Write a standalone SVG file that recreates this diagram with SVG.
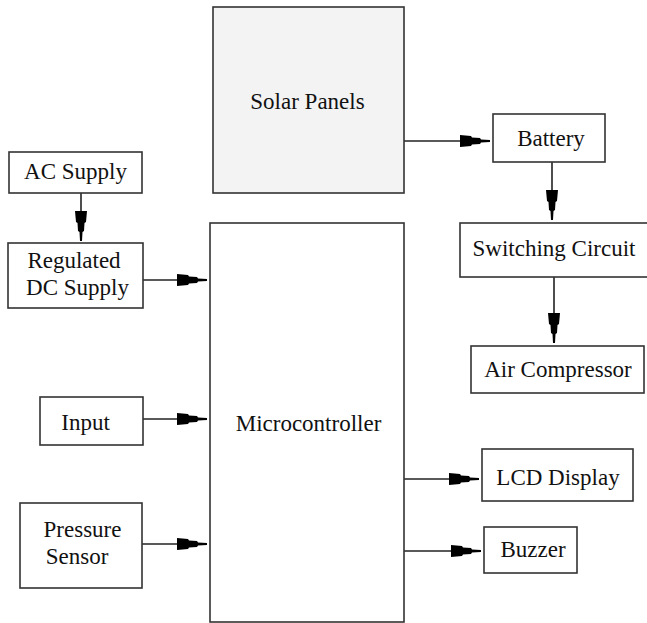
<svg xmlns="http://www.w3.org/2000/svg" width="647" height="623" viewBox="0 0 647 623">
<style>
.box{fill:#fff;stroke:#333;stroke-width:1.6}
.solar{fill:#f3f3f3}
.lbl{font-family:"Liberation Serif","Times New Roman",serif;font-size:23px;fill:#111;text-anchor:middle}
.edge{stroke:#222;stroke-width:1.6;fill:none;marker-end:url(#ah)}
</style>
<defs>
<marker id="ah" markerUnits="userSpaceOnUse" markerWidth="32" markerHeight="14" viewBox="0 -7 31 14" refX="30" refY="0" orient="auto">
<path d="M0,-6 L11,-5 L12,-3.5 L20,-3 L21,-1.5 L30,-1 L30,1 L21,1.5 L20,3 L12,3.5 L11,5 L0,6 Z" fill="#000"/>
</marker>
</defs>
<rect width="647" height="623" fill="#fff"/>
<g id="connectors">
<line class="edge" x1="404" y1="141" x2="490" y2="141"/>
<line class="edge" x1="552" y1="162" x2="552" y2="220"/>
<line class="edge" x1="554" y1="277" x2="554" y2="343"/>
<line class="edge" x1="81" y1="193" x2="81" y2="241"/>
<line class="edge" x1="143" y1="280" x2="207" y2="280"/>
<line class="edge" x1="143" y1="419" x2="207" y2="419"/>
<line class="edge" x1="142" y1="544" x2="207" y2="544"/>
<line class="edge" x1="404" y1="479" x2="479" y2="479"/>
<line class="edge" x1="404" y1="551" x2="481" y2="551"/>
</g>
<g id="solar-panels"><rect class="box solar" x="213" y="7" width="191" height="186"/><text class="lbl" x="307.5" y="109">Solar Panels</text></g>
<g id="battery"><rect class="box" x="493" y="114" width="112" height="48"/><text class="lbl" x="551" y="146">Battery</text></g>
<g id="switching-circuit"><rect class="box" x="460" y="223" width="190" height="54"/><text class="lbl" x="554" y="256">Switching Circuit</text></g>
<g id="air-compressor"><rect class="box" x="471" y="346" width="173" height="47"/><text class="lbl" x="558" y="377">Air Compressor</text></g>
<g id="ac-supply"><rect class="box" x="9" y="152" width="133" height="41"/><text class="lbl" x="75.5" y="179">AC Supply</text></g>
<g id="regulated-dc-supply"><rect class="box" x="8" y="243" width="135" height="65"/><text class="lbl" x="74" y="268">Regulated</text><text class="lbl" x="77.5" y="295">DC Supply</text></g>
<g id="microcontroller"><rect class="box" x="210" y="223" width="194" height="399"/><text class="lbl" x="308.5" y="431">Microcontroller</text></g>
<g id="input"><rect class="box" x="40" y="397" width="103" height="48"/><text class="lbl" x="85.5" y="430">Input</text></g>
<g id="pressure-sensor"><rect class="box" x="20" y="503" width="122" height="85"/><text class="lbl" x="82.5" y="537">Pressure</text><text class="lbl" x="77" y="564">Sensor</text></g>
<g id="lcd-display"><rect class="box" x="482" y="449" width="151" height="52"/><text class="lbl" x="558" y="485">LCD Display</text></g>
<g id="buzzer"><rect class="box" x="484" y="527" width="93" height="46"/><text class="lbl" x="533" y="557">Buzzer</text></g>
</svg>
